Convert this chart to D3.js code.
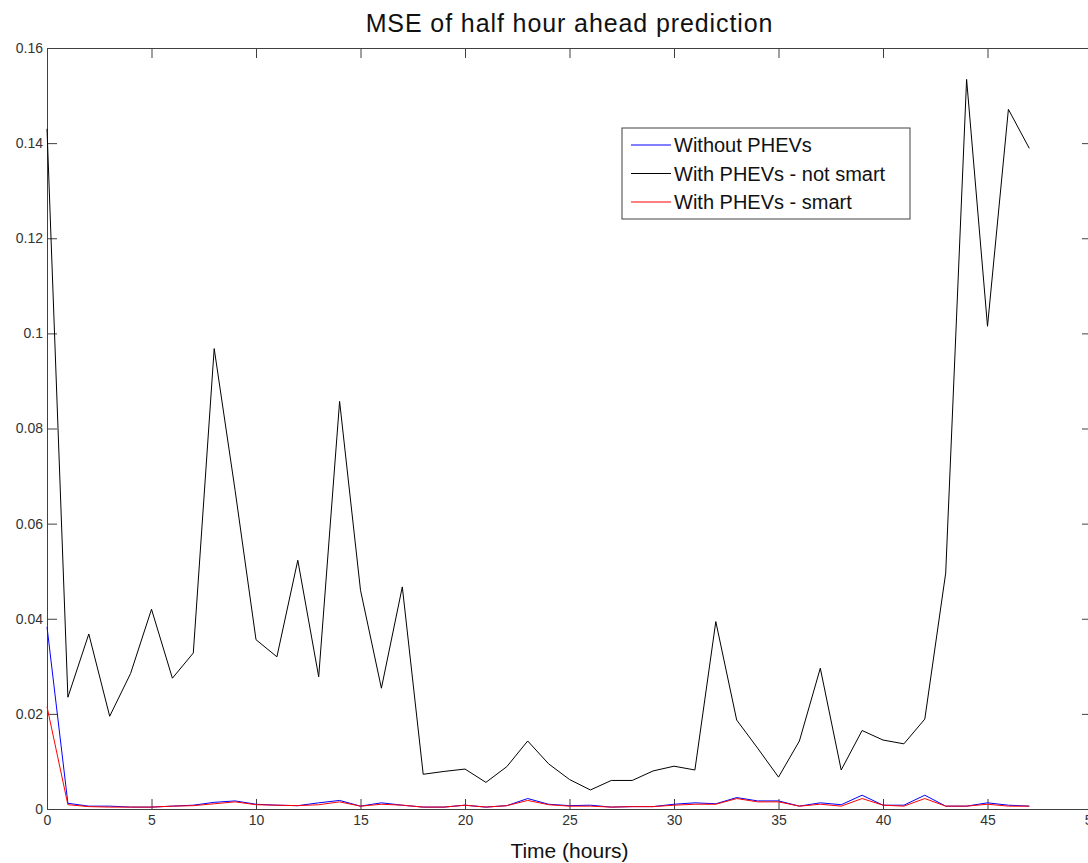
<!DOCTYPE html>
<html>
<head>
<meta charset="utf-8">
<script src="https://cdn.jsdelivr.net/npm/d3@7"></script>
<style>
  body { margin: 0; overflow: hidden; background: #fff; }
  svg { display: block; font-family: "Liberation Sans", Arial, sans-serif; }
  .axis path, .axis line { stroke: #404040; }
  .axis text { fill: #333; font-size: 14px; }
</style>
</head>
<body>
<svg id="chart"></svg>
<script>
// hours 0..47
const hours = d3.range(0, 48);

const withoutPHEV = [0.0383, 0.0012, 0.0006, 0.0006, 0.0004, 0.0004, 0.0006, 0.0008, 0.0014, 0.0017,
  0.001, 0.0008, 0.0007, 0.0013, 0.0018, 0.0006, 0.0013, 0.0008, 0.0004, 0.0004,
  0.0008, 0.0004, 0.0007, 0.0022, 0.001, 0.0007, 0.0008, 0.0004, 0.0005, 0.0005,
  0.001, 0.0013, 0.0011, 0.0024, 0.0017, 0.0017, 0.0006, 0.0013, 0.0009, 0.0029,
  0.0008, 0.0008, 0.0029, 0.0006, 0.0006, 0.0013, 0.0008, 0.0006];

const notSmart = [0.143, 0.0235, 0.0368, 0.0195, 0.0285, 0.042, 0.0275, 0.0328, 0.0968, 0.067,
  0.0356, 0.032, 0.0523, 0.0278, 0.0857, 0.046, 0.0254, 0.0467, 0.0073, 0.0079,
  0.0084, 0.0056, 0.0089, 0.0143, 0.0095, 0.0062, 0.004, 0.006, 0.006, 0.008,
  0.009, 0.0082, 0.0394, 0.0187, 0.0128, 0.0067, 0.0143, 0.0296, 0.0082, 0.0165,
  0.0145, 0.0137, 0.0189, 0.0496, 0.1534, 0.1015, 0.1471, 0.1389];

const smart = [0.0215, 0.0009, 0.0005, 0.0004, 0.0004, 0.0004, 0.0006, 0.0007, 0.0011, 0.0015,
  0.0009, 0.0008, 0.0007, 0.0009, 0.0015, 0.0006, 0.001, 0.0008, 0.0004, 0.0004,
  0.0008, 0.0004, 0.0007, 0.0018, 0.0009, 0.0006, 0.0006, 0.0004, 0.0005, 0.0005,
  0.0008, 0.001, 0.001, 0.0022, 0.0015, 0.0015, 0.0006, 0.001, 0.0006, 0.0022,
  0.0008, 0.0006, 0.0022, 0.0006, 0.0006, 0.001, 0.0006, 0.0006];

const seriesNames = ['Without PHEVs', 'With PHEVs - not smart', 'With PHEVs - smart'];
const seriesColors = ['#0000ff', '#000000', '#ff0000'];

const xTicks = d3.range(0, 51, 5);
const yTicks = [0, 0.02, 0.04, 0.06, 0.08, 0.1, 0.12, 0.14, 0.16];

const width = 1088, height = 863;
const margin = { top: 48, left: 47 };
const plotW = 1045, plotH = 761;

const svg = d3.select('#chart').attr('width', width).attr('height', height);
const g = svg.append('g').attr('transform', `translate(${margin.left},${margin.top})`);

const x = d3.scaleLinear().domain([0, 50]).range([0, plotW]);
const y = d3.scaleLinear().domain([0, 0.16]).range([plotH, 0]);

const fmtY = d => String(+d.toFixed(2));

// axes with inward ticks (matlab style box)
g.append('g').attr('class', 'axis')
  .attr('transform', `translate(0,${plotH})`)
  .call(d3.axisBottom(x).tickValues(xTicks).tickSize(-10).tickPadding(6).tickSizeOuter(0));
g.append('g').attr('class', 'axis')
  .call(d3.axisTop(x).tickValues(xTicks).tickSize(-10).tickFormat('').tickSizeOuter(0));
g.append('g').attr('class', 'axis')
  .call(d3.axisLeft(y).tickValues(yTicks).tickSize(-10).tickPadding(4).tickFormat(fmtY).tickSizeOuter(0));
g.append('g').attr('class', 'axis')
  .attr('transform', `translate(${plotW},0)`)
  .call(d3.axisRight(y).tickValues(yTicks).tickSize(-10).tickFormat('').tickSizeOuter(0));

// lines
const allSeries = [withoutPHEV, notSmart, smart];
const line = d3.line().x((d, i) => x(hours[i])).y(d => y(d));

// draw order: blue, black, red (red on top)
allSeries.forEach((s, i) => {
  g.append('path')
    .datum(s)
    .attr('fill', 'none')
    .attr('stroke', seriesColors[i])
    .attr('stroke-width', 1)
    .attr('d', line);
});

// title and axis label
svg.append('text')
  .attr('x', margin.left + plotW / 2)
  .attr('y', 32)
  .attr('text-anchor', 'middle')
  .style('font-size', '25px')
  .style('letter-spacing', '0.9px')
  .style('fill', '#111')
  .text('MSE of half hour ahead prediction');

svg.append('text')
  .attr('x', margin.left + plotW / 2)
  .attr('y', 858)
  .attr('text-anchor', 'middle')
  .style('font-size', '21px')
  .style('fill', '#111')
  .text('Time (hours)');

// legend
const legend = svg.append('g').attr('transform', 'translate(622,128)');
legend.append('rect')
  .attr('width', 288).attr('height', 91)
  .attr('fill', '#fff').attr('stroke', '#404040');

seriesNames.forEach((name, i) => {
  const row = legend.append('g').attr('transform', `translate(0,${17 + i * 28.5})`);
  row.append('line')
    .attr('x1', 9).attr('x2', 49)
    .attr('stroke', seriesColors[i]);
  row.append('text')
    .attr('x', 52).attr('y', 7)
    .style('font-size', '20px')
    .style('fill', '#111')
    .text(name);
});
</script>
</body>
</html>
